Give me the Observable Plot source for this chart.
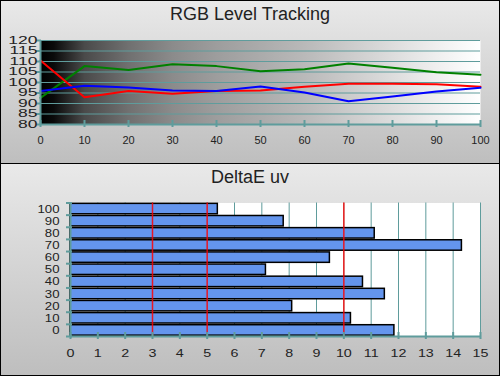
<!DOCTYPE html>
<html><head><meta charset="utf-8">
<script src="https://cdn.jsdelivr.net/npm/d3@7"></script>
<script src="https://cdn.jsdelivr.net/npm/@observablehq/plot@0.6"></script>
<style>
body{margin:0;background:#fff;}
#wrap{position:relative;width:500px;height:376px;overflow:hidden;font-family:"Liberation Sans",Arial,sans-serif;}
.panel{position:absolute;left:0;width:498px;border:1px solid #000;background:linear-gradient(#e9e9e9,#bebebe);}
.title{position:absolute;left:0;width:500px;text-align:center;font-size:18px;line-height:20px;color:#222;}
#wrap svg{position:absolute;left:0;}
</style></head>
<body><div id="wrap">
<div class="panel" style="top:0;height:162px"></div>
<div class="panel" style="top:163px;height:211px"></div>
<div class="title" style="top:4px">RGB Level Tracking</div>
<div class="title" style="top:167px">DeltaE uv</div>
</div>
<script>
// ---- Data: RGB Level Tracking ----
const levels = [0, 10, 20, 30, 40, 50, 60, 70, 80, 90, 100];
const redLevel = [110.5, 93.0, 95.9, 94.6, 95.9, 96.2, 98.0, 99.4, 99.4, 99.2, 98.0];
const greenLevel = [92.7, 107.8, 106.0, 108.7, 107.8, 105.4, 106.3, 109.0, 107.0, 104.9, 103.7];
const blueLevel = [95.9, 98.4, 97.6, 96.2, 95.9, 98.1, 95.2, 91.1, 93.3, 95.7, 97.5];
const topYTicks = [80, 85, 90, 95, 100, 105, 110, 115, 120];

// ---- Data: DeltaE uv ----
const deltaCats = [0, 10, 20, 30, 40, 50, 60, 70, 80, 90, 100];
const deltaE = [11.85, 10.26, 8.11, 11.5, 10.7, 7.15, 9.49, 14.32, 11.13, 7.8, 5.39];
const bottomXTicks = [0, 1, 2, 3, 4, 5, 6, 7, 8, 9, 10, 11, 12, 13, 14, 15];
const thresholds = [3, 5, 10];

const teal = "#5f9c9c";
const font = "'Liberation Sans', Arial, sans-serif";
const wrap = document.getElementById("wrap");

const rgbRows = (vals, name) => levels.map((l, i) => ({level: l, value: vals[i], series: name}));

const topChart = Plot.plot({
  width: 500, height: 163,
  marginLeft: 40, marginRight: 20, marginTop: 40, marginBottom: 39,
  x: {domain: [0, 100], label: null},
  y: {domain: [80, 120], label: null},
  style: {background: "transparent", fontFamily: font, fontSize: "11px", color: "#222"},
  marks: [
    Plot.frame({fill: "url(#grayramp)", stroke: null}),
    Plot.gridY(topYTicks, {stroke: teal, strokeOpacity: 1, strokeWidth: 1}),
    Plot.line(rgbRows(greenLevel, "G"), {x: "level", y: "value", stroke: "#008000", strokeWidth: 2}),
    Plot.line(rgbRows(redLevel, "R"), {x: "level", y: "value", stroke: "#ff0000", strokeWidth: 2}),
    Plot.line(rgbRows(blueLevel, "B"), {x: "level", y: "value", stroke: "#0000ff", strokeWidth: 2}),
    Plot.ruleY([80], {stroke: teal, strokeWidth: 2}),
    Plot.ruleX([0], {stroke: teal, strokeWidth: 2}),
    Plot.axisX(levels, {tickSize: 7, dy: -4, tickFormat: () => "", stroke: teal, strokeWidth: 2, label: null}),
    Plot.axisX(levels, {tickSize: 0, tickPadding: 12, tickFormat: d => String(d), label: null}),
    Plot.axisY(topYTicks, {tickSize: 5, dx: 1, tickFormat: () => "", stroke: teal, strokeWidth: 2, label: null}),
    Plot.axisY(topYTicks, {tickSize: 0, tickPadding: 3, tickFormat: d => String(d), fontSize: 10, label: null})
  ]
});
topChart.style.top = "0px";
wrap.appendChild(topChart);

// gray ramp background
{
  const svg = d3.select(topChart);
  const lg = svg.insert("defs", ":first-child").append("linearGradient")
    .attr("id", "grayramp").attr("x1", 0).attr("x2", 1).attr("y1", 0).attr("y2", 0);
  [[0, "#000"], [0.03, "#0a0a0a"], [0.1, "#4a4a4a"], [0.2, "#707070"], [0.3, "#8b8b8b"],
   [0.4, "#9d9d9d"], [0.5, "#ababab"], [0.6, "#b9b9b9"], [0.7, "#cbcbcb"], [0.8, "#dddddd"],
   [0.9, "#efefef"], [1, "#ffffff"]].forEach(([o, c]) => lg.append("stop").attr("offset", o).attr("stop-color", c));
}

const deltaRows = deltaCats.map((c, i) => ({idx: i, cat: c, v: deltaE[i]}));
const boundaries = deltaCats.map((c, i) => i - 0.5).concat([deltaCats.length - 0.5]);

const bottomChart = Plot.plot({
  width: 500, height: 213,
  marginLeft: 70, marginRight: 20, marginTop: 39.5, marginBottom: 40,
  x: {domain: [0, 15], label: null},
  y: {domain: [-0.5, deltaCats.length - 0.5], label: null},
  style: {background: "transparent", fontFamily: font, fontSize: "11px", color: "#222"},
  marks: [
    Plot.frame({fill: "white", stroke: null}),
    Plot.gridX(bottomXTicks, {stroke: teal, strokeOpacity: 1, strokeWidth: 1}),
    Plot.rect(deltaRows, {x1: 0, x2: "v", y1: d => d.idx - 0.43, y2: d => d.idx + 0.43,
      fill: "#6495ed", stroke: "#000", strokeWidth: 1.5}),
    Plot.ruleX(thresholds, {stroke: "#ff0000", strokeWidth: 1.5, strokeOpacity: 0.85}),
    Plot.ruleX([0], {stroke: teal, strokeWidth: 2}),
    Plot.ruleY([-0.5], {stroke: teal, strokeWidth: 2}),
    Plot.axisY(boundaries, {tickSize: 6, dx: 2, tickFormat: () => "", stroke: teal, strokeWidth: 2, label: null}),
    Plot.axisY(deltaRows.map(d => d.idx), {tickSize: 0, tickPadding: 11, tickFormat: i => String(deltaCats[i]), fontSize: 11, label: null}),
    Plot.axisX(bottomXTicks, {tickSize: 7, dy: -4, tickFormat: () => "", stroke: teal, strokeWidth: 2, label: null}),
    Plot.axisX(bottomXTicks, {tickSize: 0, tickPadding: 13, tickFormat: d => String(d), label: null})
  ]
});
bottomChart.style.top = "163px";
wrap.appendChild(bottomChart);

// horizontally stretched tick labels, as in the reference
function stretch(svgEl, sel, sx) {
  d3.select(svgEl).selectAll(sel).each(function () {
    const t = this.getAttribute("transform") || "";
    this.setAttribute("transform", t + ` scale(${sx},1)`);
  });
}
stretch(topChart, 'g[aria-label="y-axis tick label"] text', 1.75);
stretch(bottomChart, 'g[aria-label="y-axis tick label"] text', 1.2);
stretch(bottomChart, 'g[aria-label="x-axis tick label"] text', 1.3);
</script>
</body></html>
